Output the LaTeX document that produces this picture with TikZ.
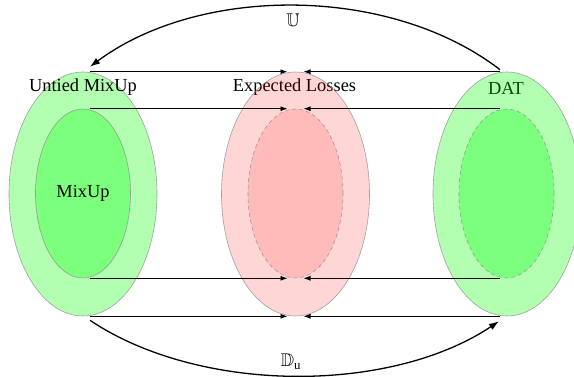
\documentclass[tikz,border=0pt]{standalone}
\usepackage{amssymb}
\usepackage{fontspec}
\setmainfont{Liberation Serif}
\usetikzlibrary{shapes.geometric,arrows.meta}
\begin{document}
\begin{tikzpicture}[x=1pt,y=-1pt,
  outerell/.style={ellipse,inner sep=0pt,minimum width=148pt,minimum height=244pt,draw=black!45,line width=0.6pt,draw opacity=0.8},
  innerell/.style={ellipse,inner sep=0pt,minimum width=95pt,minimum height=169pt,draw=black!45,line width=0.6pt,draw opacity=0.8},
  greenfill/.style={fill=green,fill opacity=0.3},
  redfill/.style={fill=red,fill opacity=0.16},
  redfilltwo/.style={fill=red,fill opacity=0.13},
  dashedline/.style={dash pattern=on 4pt off 3pt},
  lbl/.style={font=\fontsize{18.4}{22}\selectfont,inner sep=0pt},
  flow/.style={line width=0.8pt,-{Latex[length=7pt,width=5pt]}},
  bigflow/.style={line width=1.3pt,-{Latex[length=10pt,width=7pt]}}]
\useasboundingbox (0,0) rectangle (574,377);
% left
\node[outerell,greenfill] (LO) at (83,194) {};
\node[innerell,greenfill] (LI) at (83,193.5) {};
% texts
\node[lbl] (tL) at (83,87) {Untied MixUp};
\node[lbl] (tM) at (294.5,87) {Expected Losses};
\node[lbl] (tR) at (506,88) {DAT};
\node[lbl] (tMix) at (83,193) {MixUp};
% middle
\node[outerell,redfill] (MO) at (295.5,194) {};
\node[innerell,redfilltwo,dashedline] (MI) at (295.5,193.5) {};
% right
\node[outerell,greenfill] (RO) at (507,194) {};
\node[innerell,greenfill,dashedline] (RI) at (506.5,193.5) {};
% horizontal arrows
\draw[flow] ([xshift=7pt]LO.north) -- ([xshift=-8pt]MO.north);
\draw[flow] ([xshift=-7pt]RO.north) -- ([xshift=8pt]MO.north);
\draw[flow] ([xshift=7pt]LI.north) -- ([xshift=-8pt]MI.north);
\draw[flow] ([xshift=-7pt]RI.north) -- ([xshift=8pt]MI.north);
\draw[flow] ([xshift=7pt]LI.south) -- ([xshift=-8pt]MI.south);
\draw[flow] ([xshift=-7pt]RI.south) -- ([xshift=8pt]MI.south);
\draw[flow] ([xshift=7pt]LO.south) -- ([xshift=-8pt]MO.south);
\draw[flow] ([xshift=-7pt]RO.south) -- ([xshift=8pt]MO.south);
% curves
\coordinate (uS) at ([xshift=-7pt,yshift=2pt]RO.north);
\coordinate (uE) at ([xshift=7pt,yshift=5pt]LO.north);
\draw[bigflow] (uS) .. controls (390,-15) and (200,-15) .. (uE);
\node[lbl] (uLbl) at (293,20) {$\mathbb{U}$};
\coordinate (dS) at ([xshift=7pt,yshift=-4pt]LO.south);
\coordinate (dE) at ([xshift=-8pt,yshift=-5pt]RO.south);
\draw[bigflow] (dS) .. controls (200,394) and (390,394) .. (dE);
\node[lbl] (dLbl) at (291,362) {$\mathbb{D}_{\mathrm{u}}$};
\end{tikzpicture}
\end{document}
